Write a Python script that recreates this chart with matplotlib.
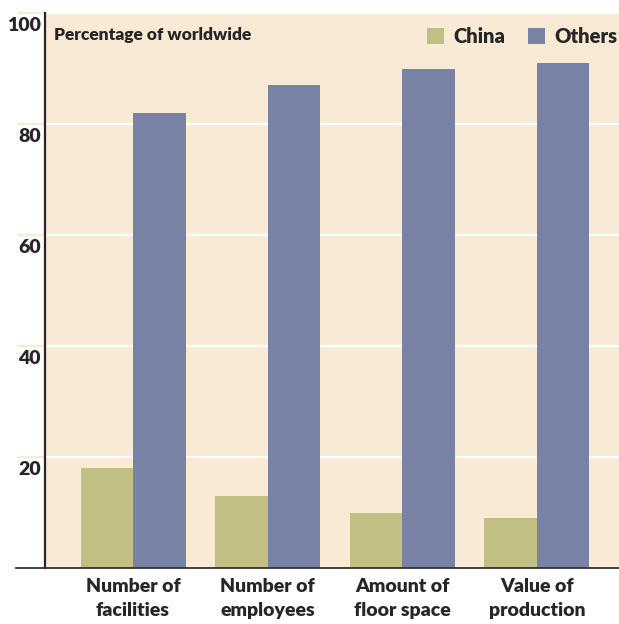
import numpy as np
import matplotlib.pyplot as plt
from matplotlib.transforms import offset_copy

# share of worldwide total, China vs everyone else
categories = ["Number of\nfacilities", "Number of\nemployees",
              "Amount of\nfloor space", "Value of\nproduction"]
china = [18, 13, 10, 9]
others = [82, 87, 90, 91]
yticks = [20, 40, 60, 80, 100]

bg = "#F9EAD6"
c_china = "#C2BF85"
c_others = "#7882A4"
ink = "#262626"
wt = "heavy"

plt.rcParams['font.family'] = ['Lato', 'DejaVu Sans']

fig = plt.figure(figsize=(6.19, 6.24), dpi=100)
ax = fig.add_axes([45/619, 56/624, 574/619, 555/624])
ax.set_facecolor(bg)

x = np.arange(len(categories))
w = 0.39
b1 = ax.bar(x - w/2, china, w, color=c_china, label="China", zorder=3)
b2 = ax.bar(x + w/2, others, w, color=c_others, label="Others", zorder=3)

ax.set_xlim(-0.654, 3.61)
ax.set_ylim(0, 100)

# white horizontal grid, tick stripes in background colour
ax.set_yticks(yticks)
ax.yaxis.grid(True, color="white", lw=1.6, zorder=1)
ax.tick_params(axis="y", length=20, width=1.6, color=bg, labelleft=False)
ylab_tr = offset_copy(ax.get_yaxis_transform(), fig=fig, x=0, y=-4, units="dots")
for v in yticks:
    ax.text(-0.007, v, str(v), transform=ylab_tr,
            ha="right", va="top", fontsize=14, color=ink, fontweight=wt)

ax.set_xticks(x)
ax.set_xticklabels(categories, fontsize=14, color=ink, fontweight=wt,
                   linespacing=1.55)
ax.tick_params(axis="x", length=0, pad=7)

for s in ["top", "right", "bottom"]:
    ax.spines[s].set_visible(False)
ax.spines["left"].set_color(ink)
ax.spines["left"].set_linewidth(1.6)
ax.plot([-0.051, 1], [0, 0], transform=ax.transAxes, color="#333333",
        lw=1.3, clip_on=False, zorder=5)

ax.text(0.016, 0.975, "Percentage of worldwide", transform=ax.transAxes,
        ha="left", va="top", fontsize=12.5, color=ink, fontweight=wt)

leg = ax.legend(handles=[b1, b2], loc="upper left", bbox_to_anchor=(0.665, 0.975),
                ncol=2, frameon=False, handlelength=0.84,
                handleheight=0.84, handletextpad=0.5, columnspacing=1.1,
                borderpad=0, borderaxespad=0, labelcolor=ink,
                prop={"weight": wt, "size": 14.5})

fig.savefig("out.png", dpi=100)
